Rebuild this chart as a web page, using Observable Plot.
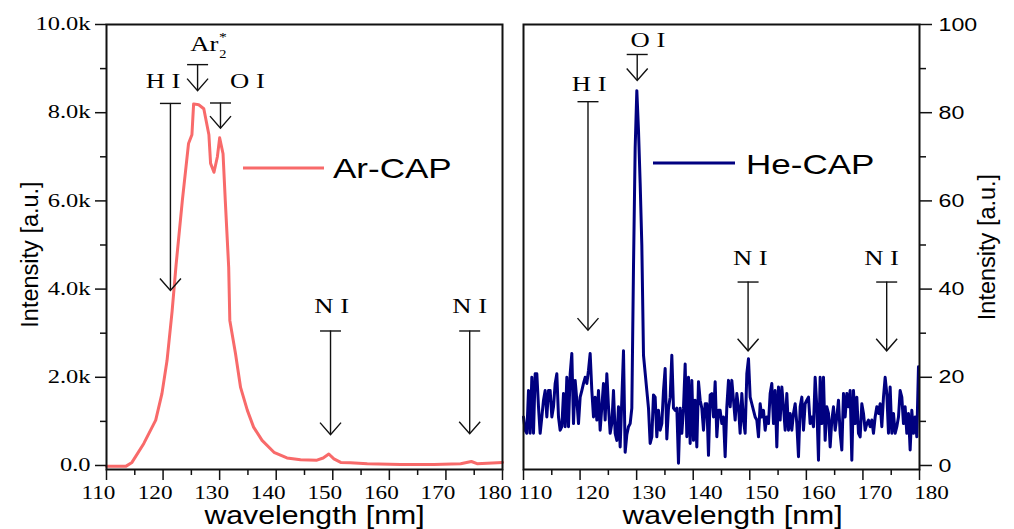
<!DOCTYPE html>
<html><head><meta charset="utf-8">
<script src="https://cdn.jsdelivr.net/npm/d3@7"></script>
<script src="https://cdn.jsdelivr.net/npm/@observablehq/plot@0.6"></script>
<style>
html,body{margin:0;padding:0;background:#fff;}
#chart{position:relative;width:1014px;height:529px;overflow:hidden;background:#fff;}
#chart svg{position:absolute;top:0;overflow:visible;}
</style></head><body><div id="chart"></div>
<script>
// ---- ticks ----
const xMajor = [110,120,130,140,150,160,170,180];
const xMinor = [115,125,135,145,155,165,175];
const arYMajor = [0,2000,4000,6000,8000,10000];
const arYLabels = ["0.0","2.0k","4.0k","6.0k","8.0k","10.0k"];
const arYMinor = [1000,3000,5000,7000,9000];
const heYMajor = [0,20,40,60,80,100];
const heYMinor = [10,30,50,70,90];

// ---- Ar-CAP spectrum (nm, a.u.) ----
const arWavelength = [110,113.4,114.5,116.6,118.7,119.8,120.7,121.6,122.3,123.4,124.5,125.1,125.4,126.3,127.2,128.1,128.4,129.0,129.6,130.0,130.6,131.0,131.6,131.8,132.8,133.7,134.9,136.0,137.5,139.6,141.9,144.3,147.2,148.3,149.3,150.2,151.4,153.1,156.1,162.0,167.9,172.6,174.5,175.5,180];
const arIntensity = [-20,-20,70,500,1030,1630,2380,3500,4550,6000,7300,7500,8200,8180,8090,7500,6850,6650,7000,7430,7070,6000,4490,3290,2540,1770,1250,870,570,300,170,130,120,170,260,150,70,60,40,20,20,40,90,40,70];

// ---- He-CAP spectrum: sampled grid start/step (nm), values (a.u.) ----
const heStart = 110, heStep = 0.2946;
const heIntensity = [
11,8,7.3,17,7.3,20,7.3,20.8,20.8,13.3,
7.3,11,14.8,17,11,17,17,11,13.3,18.6,
20.8,11,8,8.8,16.3,8.8,20,8.8,20.8,25.4,
9.5,19.3,14.8,9.5,15.5,17,18.6,20,18.6,21.6,
25.4,17,11,15.5,10.3,17,8,13.3,18.6,10.3,
20.8,13.3,7.3,9.5,17,7.3,5.7,13.3,4.2,
15,26,
3,7,8.8,9.5,13,45,72,85,76,64,
50,25,21,17,13,5,6.5,16,15.5,6.5,
12.5,8,9.5,17,22,6,13,15.5,25,13,
12.5,13,0.5,13,7.3,13,23,6.5,20,5,
19.3,5.7,14.8,4.2,19,14.8,13,8,14,14,
2.3,16,16.3,11,19,6.5,12.5,
12.5,9.5,11,2,13.3,19.3,13.3,19.3,14.8,10.3,
16.3,13.3,7.3,16.3,10.3,7.3,20.8,24.2,15.5,14,
12.5,11,10.3,6.5,14,11,12.5,8,11,9.5,
16.3,18.6,9.5,17,4.2,17.8,10.3,17.8,13.3,8,
16.3,8,11.8,8,11.8,14,9.5,2,13.3,15.5,
8,14,14.8,15.5,9.5,11,8.8,20,13.3,1.2,
20,9.5,
20,5.7,13.3,11.8,4.2,10.3,13.3,8,11,14.8,
7.3,3.5,16.3,11,16.3,13.3,17,1.2,17,9.5,
15.5,7.3,6.5,14,11.8,8,9.5,10.3,8.8,10.3,
7.3,11,13.3,11.8,14,8.8,15.5,20,16.3,7.3,
17.8,7.3,11.8,7.3,8.8,11,17,15.5,9.5,13.3,
7.3,11.8,3.5,12.5,7.3,11,6.5,22.4
];

// ---- annotations (emission lines) ----
const arLineX   = [121.3, 126.1, 130.15, 149.6, 174.2];
const arLineTop = [8210, 9090, 8220, 3050, 3050];
const arLineTip = [3970, 8500, 7650, 700, 720];
const arLabelText = ["H I","O I","N I","N I"];
const arLabelX = [120.0, 134.9, 149.8, 174.2];
const arLabelY = [8720, 8720, 3600, 3620];
const ar2LabelX = 127.3, ar2LabelY = 9550;

const heLineX   = [121.4, 130.1, 149.7, 174.2];
const heLineTop = [82.5, 93.2, 41.6, 41.6];
const heLineTip = [30.7, 87.3, 26.0, 26.0];
const heLabelText = ["H I","O I","N I","N I"];
const heLabelX = [121.6, 132.0, 150.1, 173.3];
const heLabelY = [86.4, 96.4, 47.1, 47.1];

// ---- styles ----
const SERIF = "'Liberation Serif','Times New Roman',serif";
const SANS = "'Liberation Sans',Arial,sans-serif";
const AR_COLOR = "#f86a6a", HE_COLOR = "#000080", INK = "#111";

const chevron = {draw(c){ c.moveTo(-10.5,-12); c.lineTo(0,0); c.lineTo(10.5,-12); }};
const tbar = {draw(c){ c.moveTo(-10.5,0); c.lineTo(10.5,0); }};

const arData = arWavelength.map((wl,i)=>({wl, v: arIntensity[i]}));
const heData = heIntensity.map((v,i)=>({wl: heStart + i*heStep, v}));
const arArrows = arLineX.map((x,i)=>({x, top: arLineTop[i], tip: arLineTip[i]}));
const heArrows = heLineX.map((x,i)=>({x, top: heLineTop[i], tip: heLineTip[i]}));
const arLabels = arLabelText.map((t,i)=>({t, x: arLabelX[i], y: arLabelY[i]}));
const heLabels = heLabelText.map((t,i)=>({t, x: heLabelX[i], y: heLabelY[i]}));
const ar2 = [{x: ar2LabelX, y: ar2LabelY}];

function arrowMarks(arrows){
  return [
    Plot.ruleX(arrows, {x:"x", y1:"top", y2:"tip", stroke:INK, strokeWidth:1.4}),
    Plot.dot(arrows, {x:"x", y:"top", symbol:tbar, stroke:INK, fill:"none", strokeWidth:1.4}),
    Plot.dot(arrows, {x:"x", y:"tip", symbol:chevron, stroke:INK, fill:"none", strokeWidth:1.4, strokeLinejoin:"miter"})
  ];
}
function xAxes(labelShift){
  return [
    // tick marks
    Plot.axisX(xMajor, {anchor:"bottom", tickSize:11, tickFormat:()=>"", stroke:INK, strokeWidth:1.5, label:null}),
    Plot.axisX(xMinor, {anchor:"bottom", tickSize:6, tickFormat:()=>"", stroke:INK, strokeWidth:1.5, label:null}),
    // tick labels (offset sideways as in the reference)
    Plot.axisX(xMajor, {anchor:"bottom", tickSize:0, tickPadding:16, tickFormat:d=>String(d), dx:labelShift, fontFamily:SERIF, fontSize:19, label:null})
  ];
}
const titleOpts = {text:d=>d, textAnchor:"middle", lineAnchor:"middle", fontFamily:SANS, fill:"#000"};

const left = Plot.plot({
  width:507, height:529, marginLeft:106, marginRight:5, marginTop:24, marginBottom:60,
  x:{domain:[110,180], label:null}, y:{domain:[-91,10000], label:null},
  style:{background:"none", overflow:"visible", color:"#000"},
  marks:[
    Plot.line(arData, {x:"wl", y:"v", stroke:AR_COLOR, strokeWidth:3}),
    ...arrowMarks(arArrows),
    Plot.text(arLabels, {x:"x", y:"y", text:"t", fontFamily:SERIF, fontSize:21, fill:"#000"}),
    Plot.text(ar2, {x:"x", y:"y", text:()=>"Ar", fontFamily:SERIF, fontSize:21, fill:"#000"}),
    Plot.text(ar2, {x:"x", y:"y", text:()=>"2", dx:18.5, dy:9.5, fontFamily:SERIF, fontSize:12, fill:"#000"}),
    Plot.text(ar2, {x:"x", y:"y", text:()=>"*", dx:18.5, dy:-8, fontFamily:SERIF, fontSize:13, fill:"#000"}),
    Plot.frame({stroke:INK, strokeWidth:2}),
    Plot.axisY(arYMajor, {anchor:"left", tickSize:11, tickPadding:5, tickFormat:d=>arYLabels[arYMajor.indexOf(d)], fontFamily:SERIF, fontSize:18, stroke:INK, strokeWidth:1.5, label:null}),
    Plot.axisY(arYMinor, {anchor:"left", tickSize:6, tickFormat:()=>"", stroke:INK, strokeWidth:1.5, label:null}),
    ...xAxes(-8),
    Plot.text(["wavelength [nm]"], {...titleOpts, frameAnchor:"bottom", dx:10, dy:46.5, fontSize:25}),
    Plot.text(["Intensity [a.u.]"], {...titleOpts, frameAnchor:"left", rotate:-90, dx:-76, dy:7.5, fontSize:23.5})
  ]
});

const right = Plot.plot({
  width:507, height:529, marginLeft:16, marginRight:95, marginTop:24, marginBottom:60,
  x:{domain:[110,180], label:null}, y:{domain:[-0.91,100], label:null},
  style:{background:"none", overflow:"visible", color:"#000"},
  marks:[
    Plot.line(heData, {x:"wl", y:"v", stroke:HE_COLOR, strokeWidth:3}),
    ...arrowMarks(heArrows),
    Plot.text(heLabels, {x:"x", y:"y", text:"t", fontFamily:SERIF, fontSize:21, fill:"#000"}),
    Plot.frame({stroke:INK, strokeWidth:2}),
    Plot.axisY(heYMajor, {anchor:"right", tickSize:12, tickPadding:7, tickFormat:d=>String(d), fontFamily:SANS, fontSize:19, stroke:INK, strokeWidth:1.5, label:null}),
    Plot.axisY(heYMinor, {anchor:"right", tickSize:6, tickFormat:()=>"", stroke:INK, strokeWidth:1.5, label:null}),
    ...xAxes(12),
    Plot.text(["wavelength [nm]"], {...titleOpts, frameAnchor:"bottom", dx:11, dy:46.5, fontSize:25}),
    Plot.text(["Intensity [a.u.]"], {...titleOpts, frameAnchor:"right", rotate:-90, dx:68, dy:0, fontSize:23.5})
  ]
});

const chart = document.getElementById("chart");
left.style.left = "0px";
right.style.left = "507px";
chart.appendChild(left);
chart.appendChild(right);

// legend overlay
const legend = d3.select(chart).append("svg")
  .attr("width",1014).attr("height",529)
  .style("left","0px").style("pointer-events","none");
const legendItems = [
  {name:"Ar-CAP", color:AR_COLOR, x1:243, x2:324, y:168, tx:333, ty:178},
  {name:"He-CAP", color:HE_COLOR, x1:653, x2:735, y:163, tx:746, ty:173.5}
];
legendItems.forEach(d=>{
  legend.append("line").attr("x1",d.x1).attr("x2",d.x2).attr("y1",d.y).attr("y2",d.y)
    .attr("stroke",d.color).attr("stroke-width",3);
  legend.append("text").attr("x",d.tx).attr("y",d.ty).text(d.name)
    .attr("font-family",SANS).attr("font-size",28).attr("fill","#000");
});

// horizontal stretch of text (the reference's glyphs are wider than normal); skip rotated text
function rotated(el){
  let n = el;
  while (n && n.getAttribute) {
    const m = (n.getAttribute("transform")||"").match(/rotate\(\s*(-?[\d.]+)/);
    if (m && Math.abs(+m[1]) > 0.01) return true;
    n = n.parentNode;
  }
  return false;
}
function stretchFor(cs){
  const size = parseFloat(cs.fontSize);
  const serif = /Serif/i.test(cs.fontFamily);
  if (size === 18) return 1.36;
  if (size === 19) return serif ? 1.22 : 1.3;
  if (size === 21) return 1.27;
  if (size === 25) return 1.21;
  if (size === 28) return 1.25;
  return 1.2;
}
chart.querySelectorAll("text").forEach(t=>{
  if (rotated(t)) return;
  const len = t.getComputedTextLength();
  if (!(len > 0)) return;
  const cs = getComputedStyle(t);
  const newLen = len * stretchFor(cs);
  const anchor = cs.textAnchor;
  const x0 = parseFloat(t.getAttribute("x")) || 0;
  const shift = anchor === "middle" ? -newLen/2 : anchor === "end" ? -newLen : 0;
  t.setAttribute("text-anchor","start");
  t.setAttribute("x", x0 + shift);
  t.setAttribute("textLength", newLen);
  t.setAttribute("lengthAdjust","spacingAndGlyphs");
});
</script></body></html>
